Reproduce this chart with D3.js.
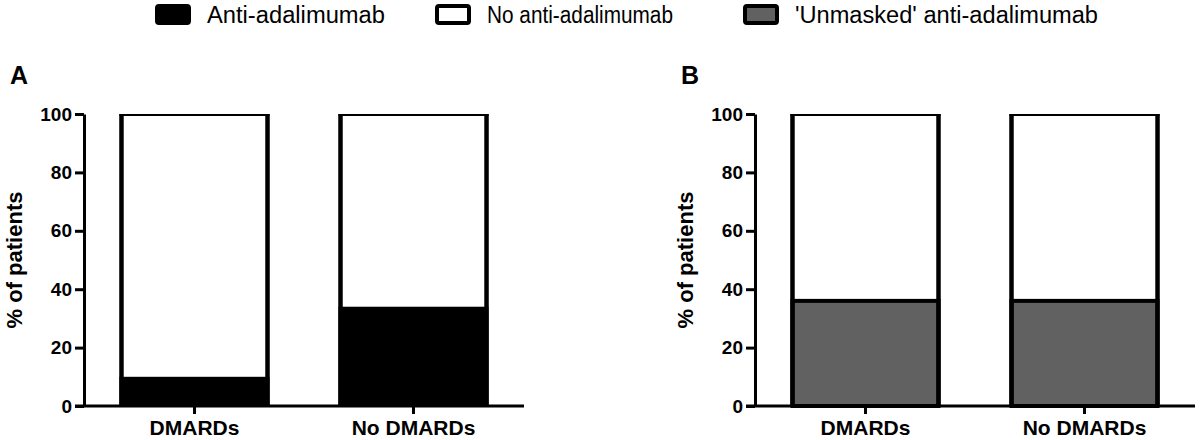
<!DOCTYPE html>
<html>
<head>
<meta charset="utf-8">
<script src="https://cdn.jsdelivr.net/npm/d3@7"></script>
<style>
  body { margin: 0; background: #fff; }
  svg { display: block; font-family: "Liberation Sans", Arial, sans-serif; }
</style>
</head>
<body>
<div id="chart"></div>
<script>
// data
const categories = ["DMARDs", "No DMARDs"];
const antiAdalimumab = [10, 34];        // panel A, % of patients
const unmaskedAnti = [36, 36];          // panel B, % of patients
const yTicks = [0, 20, 40, 60, 80, 100];
const legendLabels = ["Anti-adalimumab", "No anti-adalimumab", "'Unmasked' anti-adalimumab"];
const legendFills = ["#000", "#fff", "#616161"];

const width = 1200, height = 440;
const svg = d3.select("#chart").append("svg")
    .attr("width", width)
    .attr("height", height);

// legend along the top
const legendX = [155, 435, 743];
const legendW = [178, 186, 303];
legendLabels.forEach(function(lab, i) {
    const g = svg.append("g").attr("transform", "translate(" + legendX[i] + ",0)");
    g.append("rect")
        .attr("x", 2).attr("y", 6)
        .attr("width", 32).attr("height", 17)
        .attr("rx", 2)
        .attr("fill", legendFills[i])
        .attr("stroke", "#000")
        .attr("stroke-width", 4);
    g.append("text")
        .attr("x", 52).attr("y", 23)
        .attr("font-size", 23)
        .attr("textLength", legendW[i])
        .attr("lengthAdjust", "spacingAndGlyphs")
        .text(lab);
});

const y = d3.scaleLinear().domain([0, 100]).range([406, 114]);

function drawPanel(letter, axisX, axisEnd, values, fill, boxed) {
    const g = svg.append("g");
    const x = d3.scaleBand()
        .domain(categories)
        .range([axisX, axisEnd])
        .paddingInner(0.315)
        .paddingOuter(0.162);

    g.append("text")
        .attr("x", axisX - 74)
        .attr("y", 84)
        .attr("font-size", 25)
        .attr("font-weight", "bold")
        .text(letter);

    g.append("text")
        .attr("transform", "translate(" + (axisX - 62) + "," + ((y(0) + y(100)) / 2) + ") rotate(-90)")
        .attr("text-anchor", "middle")
        .attr("font-size", 22)
        .attr("font-weight", "bold")
        .text("% of patients");

    // bars
    categories.forEach(function(c, i) {
        const x0 = x(c), bw = x.bandwidth();
        g.append("rect")
            .attr("x", x0).attr("y", y(100))
            .attr("width", bw).attr("height", y(0) - y(100))
            .attr("fill", "#fff");
        g.append("rect")
            .attr("x", boxed ? x0 + 2 : x0)
            .attr("y", y(values[i]))
            .attr("width", boxed ? bw - 4 : bw)
            .attr("height", y(0) - y(values[i]))
            .attr("fill", fill)
            .attr("stroke", boxed ? "#000" : "none")
            .attr("stroke-width", 4);
        // top edge thin, sides thick
        g.append("line")
            .attr("x1", x0).attr("x2", x0 + bw)
            .attr("y1", y(100) + 1).attr("y2", y(100) + 1)
            .attr("stroke", "#000").attr("stroke-width", 2);
        [x0 + 2, x0 + bw - 2].forEach(function(sx) {
            g.append("line")
                .attr("x1", sx).attr("x2", sx)
                .attr("y1", y(100)).attr("y2", y(0))
                .attr("stroke", "#000").attr("stroke-width", 4.5);
        });
    });

    // y axis
    const yAxis = g.append("g")
        .attr("transform", "translate(" + axisX + ",0)")
        .call(d3.axisLeft(y).tickValues(yTicks).tickSize(9).tickSizeOuter(0).tickPadding(3));
    yAxis.select(".domain").attr("stroke-width", 3);
    yAxis.selectAll(".tick line").attr("stroke-width", 3);
    yAxis.selectAll(".tick text")
        .attr("font-size", 19)
        .attr("font-weight", "bold")
        .attr("font-family", "Liberation Sans, Arial, sans-serif")
        .attr("fill", "#000");

    // x axis
    const xAxis = g.append("g")
        .attr("transform", "translate(0," + y(0) + ")")
        .call(d3.axisBottom(x).tickSize(8).tickSizeOuter(0).tickPadding(6));
    xAxis.select(".domain")
        .attr("d", "M" + (axisX - 9) + ",0H" + axisEnd)
        .attr("stroke-width", 3);
    xAxis.selectAll(".tick line").attr("stroke-width", 3);
    xAxis.selectAll(".tick text")
        .attr("font-size", 21)
        .attr("font-weight", "bold")
        .attr("font-family", "Liberation Sans, Arial, sans-serif")
        .attr("fill", "#000");
}

drawPanel("A", 84, 524, antiAdalimumab, "#000", false);
drawPanel("B", 755, 1195, unmaskedAnti, "#616161", true);
</script>
</body>
</html>
